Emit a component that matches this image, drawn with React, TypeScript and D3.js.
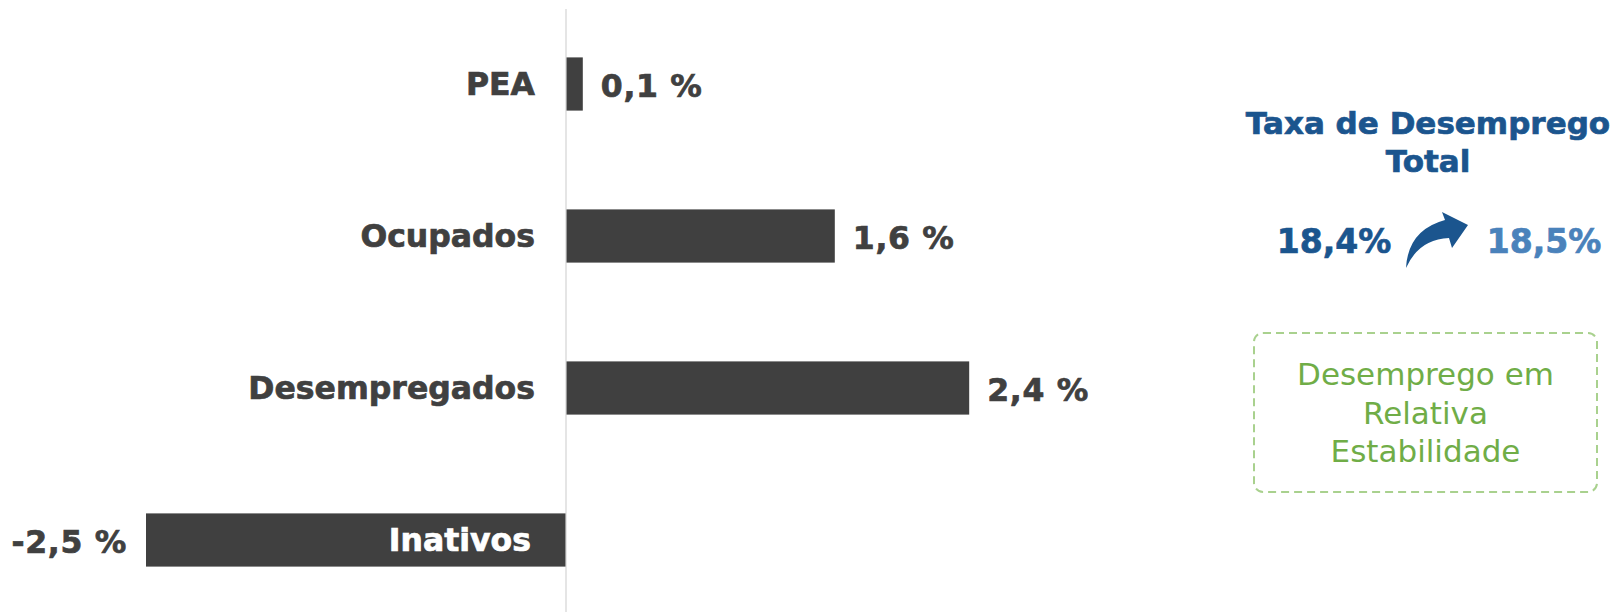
import React from "react";
import * as d3 from "d3";

const categories = ["PEA", "Ocupados", "Desempregados", "Inativos"];
const values = [0.1, 1.6, 2.4, -2.5];
const valueLabels = ["0,1 %", "1,6 %", "2,4 %", "-2,5 %"];
const titleLines = ["Taxa de Desemprego", "Total"];
const rateFrom = "18,4%";
const rateTo = "18,5%";
const noteLines = ["Desemprego em", "Relativa", "Estabilidade"];

const W = 1614;
const H = 612;
const FONT = "'DejaVu Sans', Verdana, sans-serif";
const DARK = "#404040";
const BLUE = "#1b558e";
const LIGHTBLUE = "#4a82bb";
const GREEN = "#70ad47";

export default function App() {
  const x = d3
    .scaleLinear()
    .domain([d3.min(values) as number, d3.max(values) as number])
    .range([146, 969.2]);
  const y = d3
    .scaleBand<string>()
    .domain(categories)
    .range([8, 616])
    .paddingInner(0.65)
    .paddingOuter(0.325);
  const x0 = x(0);
  const bh = y.bandwidth();

  return (
    <svg
      width={W}
      height={H}
      style={{ position: "absolute", left: 0, top: 0, background: "#fff" }}
      fontFamily={FONT}
    >
      <rect width={W} height={H} fill="#fff" />
      {categories.map((c, i) => {
        const v = values[i];
        const yc = (y(c) as number) + bh / 2;
        const xa = x(Math.min(0, v));
        const xb = x(Math.max(0, v));
        const neg = v < 0;
        const col = neg ? "#fff" : DARK;
        return (
          <g key={c}>
            <rect x={xa} y={y(c)} width={xb - xa} height={bh} fill={DARK} />
            <text
              x={neg ? 531 : 535}
              y={yc}
              dy="0.36em"
              textAnchor="end"
              fontWeight="bold"
              fontSize={31.5}
              fill={col}
              stroke={col}
              strokeWidth={0.7}
            >
              {c}
            </text>
            <text
              x={neg ? xa - 19 : xb + 18}
              y={yc + 2}
              dy="0.36em"
              textAnchor={neg ? "end" : "start"}
              fontWeight="bold"
              fontSize={31.5}
              letterSpacing={0.7}
              fill={DARK}
              stroke={DARK}
              strokeWidth={0.7}
            >
              {valueLabels[i]}
            </text>
          </g>
        );
      })}
      <line x1={x0} x2={x0} y1={9} y2={H} stroke="#d4d4d4" strokeWidth={1.2} />

      {/* right panel */}
      {titleLines.map((t, i) => (
        <text
          key={t}
          x={1428}
          y={134 + i * 37.5}
          textAnchor="middle"
          fontWeight="bold"
          fontSize={31}
          fill={BLUE}
          stroke={BLUE}
          strokeWidth={0.7}
        >
          {t}
        </text>
      ))}
      <text
        x={1334}
        y={252.5}
        textAnchor="middle"
        fontWeight="bold"
        fontSize={33}
        fill={BLUE}
        stroke={BLUE}
        strokeWidth={0.7}
      >
        {rateFrom}
      </text>
      <text
        x={1544}
        y={252.5}
        textAnchor="middle"
        fontWeight="bold"
        fontSize={33}
        fill={LIGHTBLUE}
        stroke={LIGHTBLUE}
        strokeWidth={0.7}
      >
        {rateTo}
      </text>
      <path
        d="M1406,268 Q1408,230 1445,220 L1442,212 L1468,225 L1452,248 L1449,238 Q1419,239 1406,268 Z"
        fill={BLUE}
      />
      <rect
        x={1254}
        y={333}
        width={343}
        height={159}
        rx={9}
        fill="none"
        stroke="#a9d18e"
        strokeWidth={2}
        strokeDasharray="8 5"
      />
      {noteLines.map((t, i) => (
        <text key={t} x={1425.5} y={385 + i * 38.5} textAnchor="middle" fontSize={31} fill={GREEN}>
          {t}
        </text>
      ))}
    </svg>
  );
}
